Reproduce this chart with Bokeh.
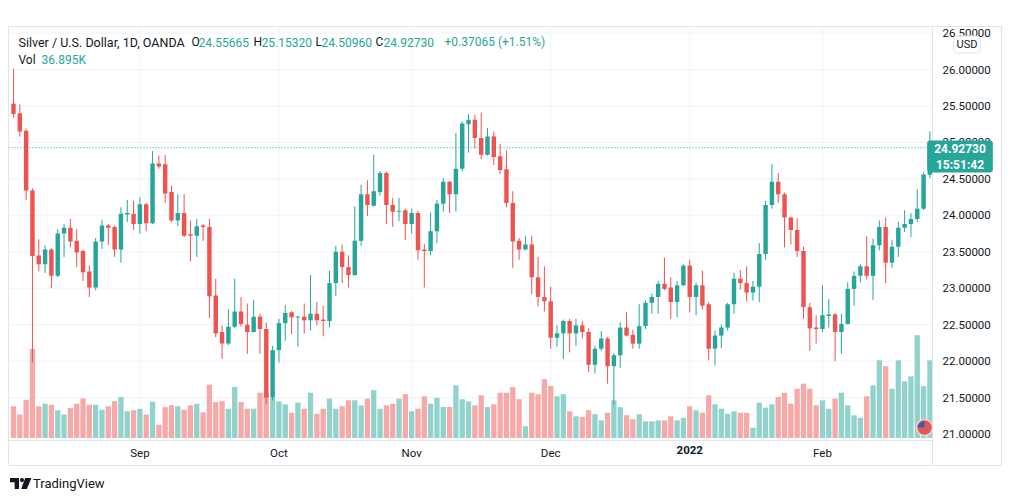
from bokeh.plotting import figure
from bokeh.models import (Range1d, FixedTicker, PrintfTickFormatter, Label,
                          Div, Spacer, ColumnDataSource, LinearAxis)
from bokeh.layouts import column, row
from bokeh.embed import file_html
from bokeh.resources import INLINE

# ---------------- data (XAGUSD, OANDA, 1D) ----------------
opens = [25.53, 25.40, 25.16, 24.34, 23.45, 23.33, 23.53, 23.17, 23.75, 23.83,
         23.65, 23.51, 23.23, 23.01, 23.64, 23.86, 23.84, 23.53, 24.01, 24.02,
         23.88, 24.15, 23.89, 24.71, 24.70, 24.32, 23.93, 24.03, 23.74, 23.72,
         23.86, 23.84, 22.90, 22.40, 22.24, 22.47, 22.68, 22.50, 22.40, 22.61,
         22.44, 21.50, 22.15, 22.52, 22.67, 22.60, 22.61, 22.56, 22.65, 22.57,
         22.55, 23.07, 23.50, 23.29, 23.18, 23.65, 24.29, 24.13, 24.32, 24.58,
         24.14, 24.05, 24.07, 23.88, 24.03, 23.53, 23.51, 23.78, 24.16, 24.46,
         24.29, 24.64, 25.25, 25.31, 25.06, 24.83, 25.08, 24.81, 24.63, 24.17,
         23.65, 23.53, 23.60, 23.15, 22.88, 22.82, 22.32, 22.38, 22.55, 22.38,
         22.49, 22.40, 21.95, 22.17, 22.31, 21.93, 22.08, 22.46, 22.36, 22.24,
         22.48, 22.80, 22.88, 23.06, 23.01, 22.81, 23.04, 23.31, 22.88, 23.04,
         22.78, 22.17, 22.35, 22.46, 22.78, 23.13, 23.07, 22.94, 23.02, 23.47,
         24.14, 24.46, 24.29, 23.97, 23.80, 23.51, 22.74, 22.46, 22.44, 22.62,
         22.64, 22.40, 22.51, 22.99, 23.17, 23.30, 23.17, 23.59, 23.84, 23.35,
         23.57, 23.83, 23.88, 23.95, 24.09, 24.55665]
highs = [26.01, 25.52, 25.19, 24.37, 23.67, 23.59, 23.55, 23.81, 23.88, 23.95,
         23.81, 23.53, 23.31, 23.69, 23.94, 23.88, 23.86, 24.11, 24.21, 24.20,
         24.25, 24.17, 24.88, 24.82, 24.83, 24.41, 24.29, 24.29, 23.93, 23.95,
         23.88, 23.95, 23.13, 22.49, 22.71, 23.13, 22.88, 22.79, 22.84, 22.65,
         22.53, 22.21, 22.58, 22.77, 22.69, 22.62, 22.79, 23.18, 22.81, 22.76,
         23.24, 23.58, 23.60, 23.45, 24.12, 24.42, 24.48, 24.83, 24.61, 24.60,
         24.24, 24.24, 24.09, 24.09, 24.06, 23.61, 24.04, 24.21, 24.51, 24.47,
         25.13, 25.29, 25.39, 25.38, 25.41, 25.20, 25.15, 24.98, 24.89, 24.33,
         23.69, 23.72, 23.72, 23.43, 23.30, 23.02, 22.49, 22.57, 22.58, 22.58,
         22.55, 22.45, 22.21, 22.41, 22.33, 22.11, 22.53, 22.67, 22.43, 22.78,
         22.83, 22.93, 23.10, 23.42, 23.15, 23.10, 23.33, 23.39, 23.08, 23.24,
         22.81, 22.42, 22.50, 22.80, 23.21, 23.25, 23.30, 23.10, 23.62, 24.20,
         24.70, 24.58, 24.31, 23.98, 23.96, 23.57, 22.80, 22.63, 23.04, 22.85,
         22.66, 22.65, 23.08, 23.23, 23.33, 23.71, 23.68, 23.93, 23.97, 23.66,
         23.91, 24.07, 24.03, 24.36, 24.59, 25.15320]
lows = [25.34, 25.08, 24.21, 21.98, 23.23, 23.21, 23.00, 23.15, 23.43, 23.56,
        23.29, 23.10, 22.88, 22.97, 23.54, 23.59, 23.43, 23.35, 23.91, 23.80,
        23.75, 23.78, 23.88, 24.64, 24.17, 23.91, 23.85, 23.70, 23.37, 23.43,
        23.65, 22.59, 22.33, 22.03, 22.22, 22.45, 22.47, 22.10, 22.39, 22.10,
        21.41, 21.46, 21.98, 22.28, 22.37, 22.20, 22.38, 22.42, 22.49, 22.34,
        22.46, 22.89, 23.07, 23.01, 23.17, 23.58, 23.99, 24.12, 24.27, 23.88,
        23.84, 23.92, 23.66, 23.75, 23.39, 23.01, 23.45, 23.62, 24.05, 24.03,
        24.05, 24.60, 24.86, 24.92, 24.77, 24.82, 24.69, 24.57, 24.11, 23.28,
        23.39, 23.52, 22.92, 22.75, 22.68, 22.17, 22.20, 22.03, 22.12, 22.21,
        22.31, 21.85, 21.83, 22.14, 21.69, 21.40, 21.91, 22.34, 22.17, 22.17,
        22.44, 22.65, 22.65, 22.97, 22.58, 22.60, 23.03, 22.67, 22.63, 22.71,
        22.01, 21.94, 22.18, 22.42, 22.65, 22.98, 22.82, 22.83, 22.81, 23.39,
        24.09, 24.17, 23.56, 23.60, 23.43, 22.58, 22.14, 22.24, 22.40, 22.46,
        22.00, 22.10, 22.50, 22.76, 23.08, 23.12, 22.84, 23.52, 23.07, 23.28,
        23.43, 23.77, 23.70, 23.91, 24.07, 24.50960]
closes = [25.39, 25.15, 24.34, 23.44, 23.33, 23.53, 23.17, 23.75, 23.83, 23.64,
          23.49, 23.22, 23.01, 23.64, 23.86, 23.83, 23.53, 24.02, 24.03, 23.88,
          24.15, 23.89, 24.71, 24.67, 24.30, 23.93, 24.03, 23.72, 23.72, 23.85,
          23.84, 22.89, 22.38, 22.24, 22.47, 22.68, 22.51, 22.40, 22.61, 22.44,
          21.50, 22.15, 22.52, 22.66, 22.60, 22.61, 22.56, 22.65, 22.56, 22.55,
          23.07, 23.50, 23.29, 23.18, 23.65, 24.29, 24.14, 24.33, 24.58, 24.14,
          24.05, 24.06, 23.88, 24.03, 23.52, 23.51, 23.78, 24.16, 24.46, 24.29,
          24.64, 25.26, 25.31, 25.06, 24.83, 25.08, 24.80, 24.62, 24.17, 23.64,
          23.53, 23.60, 23.15, 22.88, 22.82, 22.32, 22.38, 22.55, 22.38, 22.49,
          22.40, 21.95, 22.17, 22.31, 21.93, 22.08, 22.46, 22.35, 22.24, 22.48,
          22.80, 22.88, 23.06, 22.99, 22.81, 23.04, 23.31, 22.88, 23.04, 22.76,
          22.17, 22.35, 22.46, 22.78, 23.13, 23.07, 22.94, 23.02, 23.47, 24.14,
          24.46, 24.29, 23.97, 23.80, 23.51, 22.74, 22.45, 22.44, 22.63, 22.64,
          22.40, 22.51, 22.99, 23.17, 23.30, 23.17, 23.59, 23.84, 23.35, 23.57,
          23.83, 23.88, 23.95, 24.09, 24.56, 24.92730]
volumes_k = [15.1, 11.1, 18.2, 42.3, 15.1, 16.3, 15.8, 13.2, 11.1, 14.3,
             16.3, 18.7, 15.8, 15.8, 13.4, 15.1, 17.4, 19.5, 12.7, 13.2,
             13.9, 11.1, 17.2, 6.3, 14.6, 15.5, 15.1, 13.4, 15.5, 16.3,
             12.2, 25.3, 17.1, 17.4, 13.9, 24.2, 17.1, 13.9, 13.9, 21.5,
             21.5, 19.0, 17.4, 16.0, 12.0, 16.8, 13.9, 21.5, 11.5, 13.9,
             18.7, 13.9, 15.1, 17.9, 17.9, 15.5, 18.7, 22.7, 13.9, 15.5,
             16.3, 18.7, 20.8, 12.7, 13.9, 19.8, 16.3, 19.1, 14.7, 14.7,
             25.0, 18.4, 17.4, 15.5, 20.3, 14.7, 16.0, 21.5, 21.5, 24.2,
             18.4, 5.6, 21.5, 20.8, 27.9, 24.7, 19.8, 20.8, 12.7, 10.3,
             10.0, 13.2, 11.3, 8.4, 12.0, 17.9, 14.6, 10.8, 8.9, 11.3,
             7.9, 7.9, 8.4, 8.4, 10.3, 8.4, 9.6, 15.1, 13.2, 12.0,
             20.3, 16.0, 13.9, 11.5, 12.7, 12.0, 12.0, 4.9, 16.8, 14.4,
             16.0, 19.5, 21.5, 16.3, 23.4, 25.8, 23.4, 15.5, 17.9, 13.9,
             18.7, 21.5, 15.5, 10.8, 9.6, 19.8, 25.0, 36.9, 34.1, 23.4,
             36.9, 26.9, 29.3, 48.8, 24.6, 36.895]

month_ticks = [20, 42, 63, 85, 128]
month_labels = ["Sep", "Oct", "Nov", "Dec", "Feb"]
year_ticks = [107]
year_labels = ["2022"]
price_ticks = [21.0, 21.5, 22.0, 22.5, 23.0, 23.5, 24.0, 24.5, 25.0, 25.5, 26.0, 26.5]

header_title = "Silver / U.S. Dollar, 1D, OANDA"
change_text = "+0.37065 (+1.51%)"
vol_text = "36.895K"
countdown = "15:51:42"

# ---------------- styling ----------------
UP, DOWN = "#26a69a", "#ef5350"
UP_VOL, DOWN_VOL = "#92d2cc", "#f7a9a7"
TXT = "#131722"
GRID = "#f0f3fa"
BORDER = "#e0e3eb"
FONT = "Roboto"

n = len(closes)
x = list(range(n))
colors, vcolors, tops, bottoms = [], [], [], []
for o, c in zip(opens, closes):
    up = c >= o
    colors.append(UP if up else DOWN)
    vcolors.append(UP_VOL if up else DOWN_VOL)
    t, b = max(o, c), min(o, c)
    if t - b < 0.012:
        m = (t + b) / 2
        t, b = m + 0.006, m - 0.006
    tops.append(t)
    bottoms.append(b)

src = ColumnDataSource(dict(x=x, o=opens, h=highs, l=lows, c=closes, top=tops,
                            bottom=bottoms, color=colors, vol=volumes_k, vcolor=vcolors))

# widget geometry in page pixels: frame = whole bordered box x 8..1002, y 26..466
# candle pane x 8..932, y 26..440; price scale x 932..1002; time scale y 440..466
X0, DX = 13.0, 6.32          # first candle centre, candle spacing
Y26, PPU = 69.0, 72.9        # pixel row of price 26.0, pixels per 1.0 USD


def dx(px):
    return (px - X0) / DX


def dy(py):
    return 26.0 - (py - Y26) / PPU


p = figure(width=994, height=440,
           x_range=Range1d(dx(8), dx(1002)), y_range=Range1d(dy(466), dy(26)),
           output_backend="svg", toolbar_location=None, y_axis_location="right",
           min_border_left=0, min_border_top=0, min_border_right=0, min_border_bottom=0)
VOL_PX_PER_K = 2.106
vol_start = -(466 - 437.5) / VOL_PX_PER_K
p.extra_y_ranges = {"vol": Range1d(vol_start, vol_start + 440 / VOL_PX_PER_K)}
p.background_fill_color = "white"
p.border_fill_color = "white"
p.outline_line_color = BORDER
p.outline_line_width = 1
p.xgrid.visible = False
p.ygrid.visible = False

# grid lines limited to the candle pane
p.segment(x0=[dx(8)] * len(price_ticks), x1=[dx(932)] * len(price_ticks),
          y0=price_ticks, y1=price_ticks, line_color=GRID, line_width=1)
all_time_ticks = month_ticks + year_ticks
p.segment(x0=all_time_ticks, x1=all_time_ticks, y0=[dy(440)] * len(all_time_ticks),
          y1=[dy(26)] * len(all_time_ticks), line_color=GRID, line_width=1)

# axes drawn inside the bordered box (price scale at x=932, time scale at y=440)
xax = p.xaxis[0]
yax = p.yaxis[0]
xax.fixed_location = dy(440)
yax.fixed_location = dx(932)
xax.ticker = FixedTicker(ticks=month_ticks)
xax.major_label_overrides = {t: lab for t, lab in zip(month_ticks, month_labels)}
xax.bounds = (dx(8), dx(932))
yax.ticker = FixedTicker(ticks=price_ticks)
yax.formatter = PrintfTickFormatter(format="%.5f")

yr_ax = LinearAxis(fixed_location=dy(440), ticker=FixedTicker(ticks=year_ticks),
                   major_label_overrides={t: lab for t, lab in zip(year_ticks, year_labels)})
yr_ax.axis_line_color = None
yr_ax.major_label_text_font_style = "bold"
p.add_layout(yr_ax, "below")

for ax in (xax, yax, yr_ax):
    ax.major_tick_line_color = None
    ax.minor_tick_line_color = None
    ax.major_tick_out = 0
    ax.major_tick_in = 0
    ax.major_label_text_font = FONT
    ax.major_label_text_font_size = "11.5px"
    ax.major_label_text_color = TXT
xax.axis_line_color = BORDER
yax.axis_line_color = BORDER
xax.major_label_standoff = 5
yr_ax.major_label_standoff = 5
yax.major_label_standoff = 10

# volume
p.vbar(x="x", width=0.84, top="vol", bottom=0, fill_color="vcolor", line_color=None,
       y_range_name="vol", source=src)
# candles
p.segment(x0="x", y0="l", x1="x", y1="h", line_color="color", line_width=1, source=src)
p.vbar(x="x", width=0.7, top="top", bottom="bottom", fill_color="color",
       line_color=None, source=src)

# last price dotted line across the pane
p.segment(x0=[dx(8)], x1=[dx(932)], y0=[closes[-1]], y1=[closes[-1]], line_color=UP,
          line_dash="1 2", line_width=1)

# event icon (US flag) at bottom right of the pane
ix, iy = dx(924), dy(427)
p.scatter(x=[ix], y=[iy], size=16, fill_color="#e25a55", line_color="#f4d4d3", line_width=1.5)
p.wedge(x=[ix], y=[iy], radius=6.5, radius_units="screen", start_angle=1.5708,
        end_angle=3.1416, fill_color="#3c5ba9", line_color=None)


# header legend
def lab(px, py, text, color, size="12px", **kw):
    p.add_layout(Label(x=dx(px), y=dy(py), text=text, text_color=color, text_font=FONT,
                       text_font_size=size, text_baseline="middle", text_align="left", **kw))


lab(18, 41.7, header_title, TXT, size="12.5px")
lab(191, 41.7, "O", TXT)
lab(198, 41.7, f"{opens[-1]:.5f}", UP)
lab(253, 41.7, "H", TXT)
lab(261, 41.7, f"{highs[-1]:.5f}", UP)
lab(315, 41.7, "L", TXT)
lab(321, 41.7, f"{lows[-1]:.5f}", UP)
lab(375, 41.7, "C", TXT)
lab(383, 41.7, f"{closes[-1]:.5f}", UP)
lab(444, 41.7, change_text, UP)
lab(18, 59.3, "Vol", TXT)
lab(41, 59.3, vol_text, UP)

# price tag on the price scale (padding = (horizontal, vertical))
p.add_layout(Label(x=dx(959.5), y=dy(140), text=f"{closes[-1]:.5f}\n{countdown}",
                   text_align="center", text_baseline="top", text_color="white",
                   text_font=FONT, text_font_size="12px", text_font_style="bold",
                   text_line_height=1.15, background_fill_color=UP, border_radius=3,
                   padding=(7, 1)))
# currency badge
p.add_layout(Label(x=dx(966.5), y=dy(44), text="USD", text_align="center",
                   text_baseline="middle", text_color=TXT, text_font=FONT,
                   text_font_size="11px", background_fill_color="white",
                   border_line_color=BORDER, border_radius=4, padding=(3, 2)))

logo_html = (
    '<div style="position:relative;width:200px;height:27px;">'
    '<svg style="position:absolute;left:2px;top:12px" width="22" height="11" viewBox="0 0 22 11">'
    '<path d="M0 0H9V11H4.6V4.2H0Z" fill="#131722"/>'
    '<circle cx="12" cy="2.1" r="2.1" fill="#131722"/>'
    '<path d="M15.2 0H21.5L16.8 11H11.2Z" fill="#131722"/>'
    '</svg>'
    '<span style="position:absolute;left:25px;top:10px;font-family:Roboto;font-size:13px;'
    'line-height:16px;color:#131722;">TradingView</span></div>'
)
logo = Div(text=logo_html, width=200, height=27, margin=(0, 0, 0, 0))

layout = row(Spacer(width=8, height=10),
             column(Spacer(width=994, height=26), p, logo))
open("out.html", "w").write(file_html(layout, INLINE))
